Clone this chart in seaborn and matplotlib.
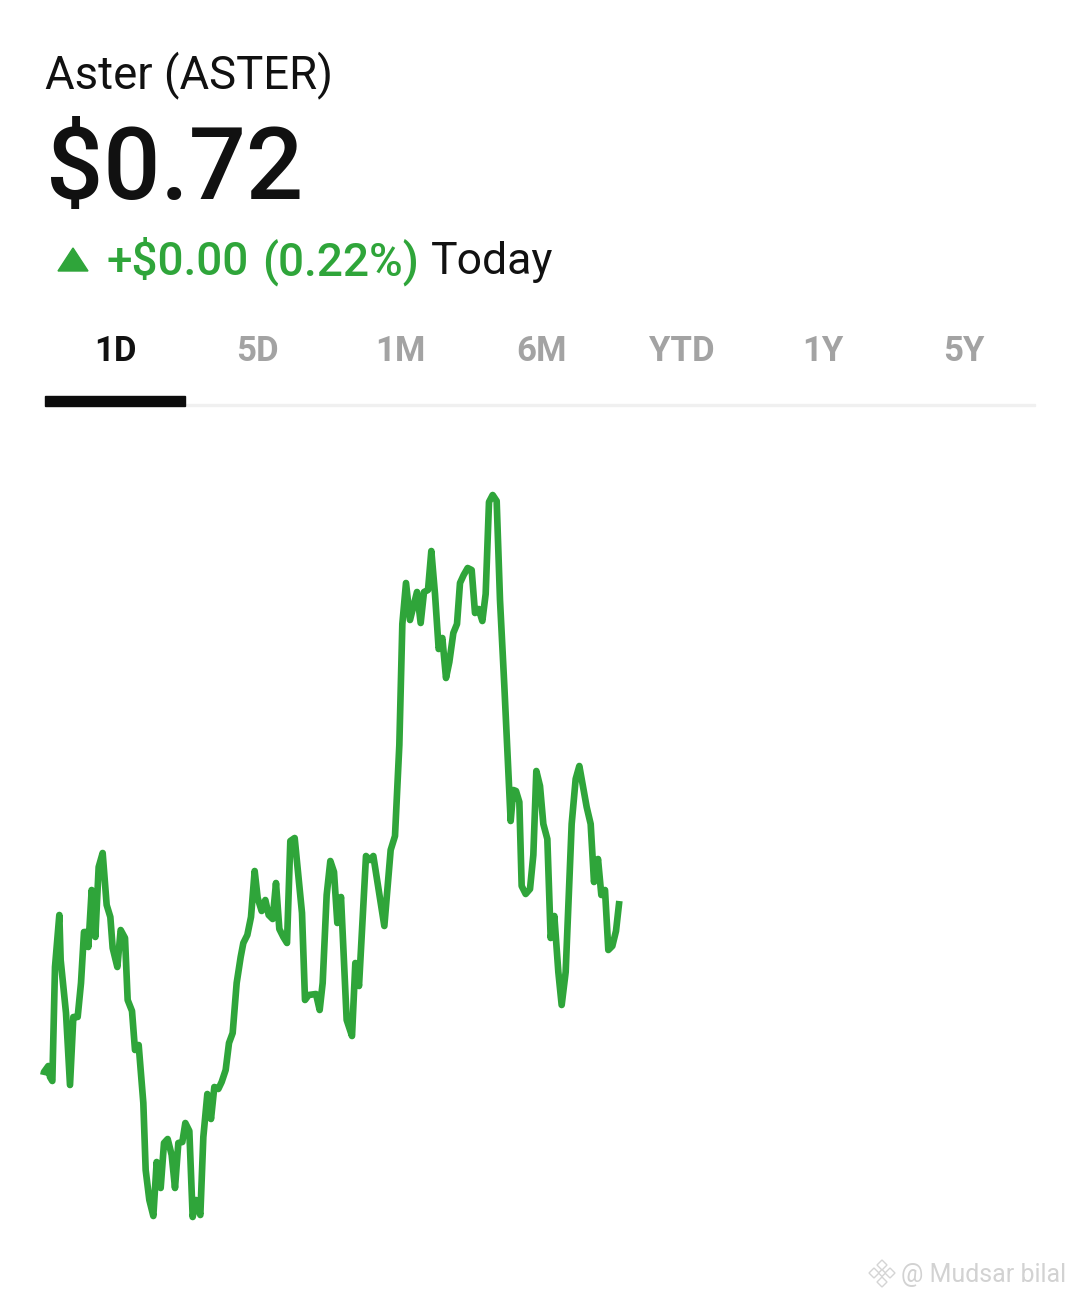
# plot.py
import matplotlib.pyplot as plt
from matplotlib.patches import Polygon, Rectangle
import seaborn as sns

W, H = 1080, 1298
GREEN = '#2fa53a'
DARK = '#111111'

# elapsed time (half minutes since open) and price in dollars
elapsed = [1, 3, 16, 21, 28, 36, 49, 53, 69, 81, 91, 104, 114, 123, 131, 136, 146, 157, 167, 179,
           191, 202, 209, 223, 233, 246, 254, 267, 276, 287, 301, 308, 319, 331, 341, 353, 363, 374, 386, 396,
           406, 418, 427, 439, 449, 459, 472, 481, 493, 504, 514, 526, 536, 548, 558, 569, 581, 593, 601, 613,
           624, 635, 644, 656, 667, 677, 689, 699, 709, 721, 732, 742, 755, 777, 786, 797, 819, 830, 839, 851,
           862, 873, 883, 894, 911, 927, 937, 948, 969, 981, 991, 1024, 1043, 1056, 1069, 1078, 1089, 1101, 1122, 1133,
           1143, 1155, 1165, 1176, 1187, 1198, 1209, 1219, 1231, 1242, 1251, 1262, 1274, 1286, 1296, 1307, 1318, 1328, 1338, 1349,
           1361, 1371, 1384, 1403, 1411, 1419, 1429, 1436, 1448, 1461, 1471, 1480, 1491, 1501, 1513, 1523, 1534, 1546, 1556, 1568,
           1586, 1598, 1609, 1631, 1643, 1653, 1665, 1675, 1686, 1696, 1708, 1719, 1729]
price = [.7027, .7030, .7036, .7025, .7021, .7135, .7187, .7142, .7089, .7017, .7085, .7085, .7119, .7170, .7170, .7155, .7212, .7165, .7235, .7249,
         .7197, .7185, .7154, .7135, .7172, .7164, .7102, .7091, .7052, .7057, .6999, .6932, .6902, .6886, .6940, .6914, .6959, .6963, .6947, .6914,
         .6959, .6960, .6979, .6971, .6885, .6902, .6887, .6965, .7008, .6983, .7015, .7013, .7020, .7032, .7059, .7069, .7119, .7145, .7159, .7167,
         .7185, .7231, .7204, .7191, .7202, .7187, .7183, .7219, .7173, .7165, .7159, .7261, .7264, .7189, .7102, .7107, .7108, .7092, .7119, .7207,
         .7241, .7230, .7179, .7205, .7082, .7066, .7139, .7116, .7246, .7242, .7246, .7176, .7252, .7266, .7357, .7478, .7519, .7482, .7510, .7479,
         .7510, .7512, .7551, .7508, .7453, .7464, .7424, .7440, .7469, .7478, .7519, .7527, .7534, .7532, .7489, .7493, .7481, .7508, .7600, .7607,
         .7601, .7502, .7416, .7281, .7312, .7311, .7300, .7216, .7208, .7213, .7247, .7331, .7316, .7278, .7263, .7164, .7186, .7130, .7097, .7130,
         .7278, .7323, .7336, .7295, .7278, .7220, .7243, .7207, .7212, .7152, .7156, .7171, .7201]
ranges = ['1D', '5D', '1M', '6M', 'YTD', '1Y', '5Y']
range_centers = [115, 257, 400, 541, 682, 823, 964]


def fx(px):
    return px / W


def fy(py):
    return 1 - py / H


sns.set_theme(style='white')
plt.rcParams['font.family'] = ['Roboto', 'DejaVu Sans']

fig = plt.figure(figsize=(W / 100, H / 100), dpi=100, facecolor='white')
ax = fig.add_axes([fx(43), fy(1240), fx(1035) - fx(43), fy(420) - fy(1240)])
sns.lineplot(x=elapsed, y=price, ax=ax, color=GREEN, linewidth=4.8, estimator=None,
             solid_joinstyle='round', solid_capstyle='butt', clip_on=False)
ax.set_xlim(0, 2976)
ax.set_ylim(0.6862, 0.7682)
ax.axis('off')

# header
fig.text(fx(45), fy(88), 'Aster (ASTER)', fontsize=32.8, color=DARK, va='baseline')
fig.text(fx(46), fy(199), '$0.72', fontsize=72.5, color=DARK, va='baseline', fontweight='medium')
fig.patches.append(Polygon([(fx(58), fy(271)), (fx(73), fy(248)), (fx(88), fy(271))],
                           closed=True, color=GREEN, transform=fig.transFigure))
fig.text(fx(107), fy(275), '+$0.00', fontsize=33, color=GREEN, va='baseline', fontweight='medium')
fig.text(fx(262), fy(275), '(0.22%)', fontsize=33, color=GREEN, va='baseline', fontweight='medium')
fig.text(fx(431), fy(274), 'Today', fontsize=32, color=DARK, va='baseline')

# range tabs
for label, cx in zip(ranges, range_centers):
    active = label == '1D'
    fig.text(fx(cx), fy(361), label, fontsize=25, ha='center', va='baseline',
             color=DARK if active else '#a3a3a3', fontweight='bold')
fig.patches.append(Rectangle((fx(186), fy(406)), fx(849), 2 / H, color='#f0f0f0', transform=fig.transFigure))
fig.patches.append(Rectangle((fx(45), fy(406)), fx(140), 10 / H, color='#0c0c0c', transform=fig.transFigure))

# watermark
for dx, dy, size in [(882, 1265, 5), (874, 1273, 5), (890, 1273, 5), (882, 1273, 3.5), (882, 1282, 5)]:
    fig.patches.append(Polygon([(fx(dx - size), fy(dy)), (fx(dx), fy(dy - size)),
                                (fx(dx + size), fy(dy)), (fx(dx), fy(dy + size))],
                               closed=True, facecolor='#ffffff', edgecolor='#d4d4d4', linewidth=1,
                               transform=fig.transFigure))
fig.text(fx(901), fy(1282), '@ Mudsar bilal', fontsize=18, color='#d2d2d2', va='baseline')

fig.savefig('out.png', dpi=100, facecolor='white')
